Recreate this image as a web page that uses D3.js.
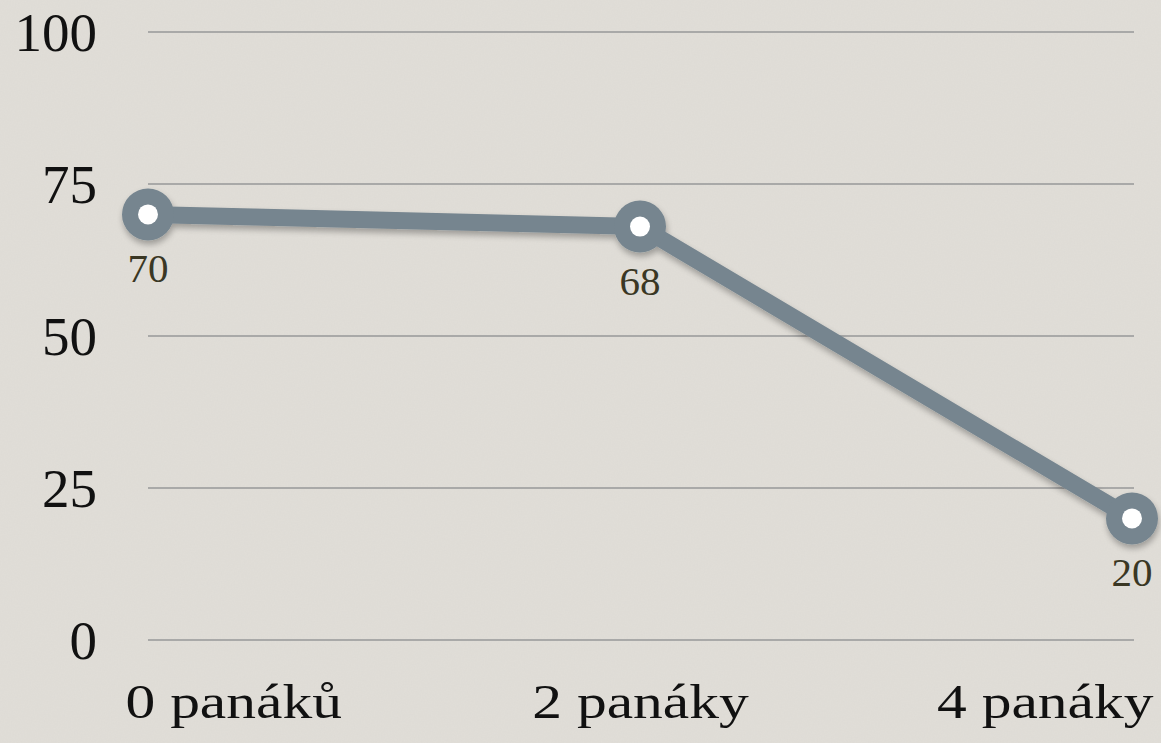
<!DOCTYPE html>
<html><head><meta charset="utf-8">
<script src="https://cdn.jsdelivr.net/npm/d3@7"></script>
<style>html,body{margin:0;padding:0;background:#e0ddd7;overflow:hidden}</style>
</head><body>
<svg id="c" width="1161" height="743"></svg>
<script>
const categories = ["0 panáků", "2 panáky", "4 panáky"];
const values = [70, 68, 20];
const yTicks = [0, 25, 50, 75, 100];

const svg = d3.select("#c");
const W = 1161, H = 743;
const defs = svg.append("defs");
const f = defs.append("filter").attr("id","paper").attr("x",0).attr("y",0).attr("width","100%").attr("height","100%");
f.append("feTurbulence").attr("type","fractalNoise").attr("baseFrequency",0.7).attr("numOctaves",3).attr("seed",4).attr("result","n");
f.append("feColorMatrix").attr("in","n").attr("type","matrix")
 .attr("values","0 0 0 0 0.5  0 0 0 0 0.5  0 0 0 0 0.48  0 0 0 0.1 0");
const sh = defs.append("filter").attr("id","sh").attr("x","-20%").attr("y","-20%").attr("width","140%").attr("height","160%");
sh.append("feGaussianBlur").attr("in","SourceAlpha").attr("stdDeviation",3);
sh.append("feOffset").attr("dx",1).attr("dy",4).attr("result","b");
sh.append("feComponentTransfer").append("feFuncA").attr("type","linear").attr("slope",0.3);
const m = sh.append("feMerge"); m.append("feMergeNode"); m.append("feMergeNode").attr("in","SourceGraphic");

svg.append("rect").attr("width",W).attr("height",H).attr("fill","#e1ded8");
svg.append("rect").attr("width",W).attr("height",H).attr("filter","url(#paper)");

const x = d3.scalePoint().domain(categories).range([148, 1132]);
const y = d3.scaleLinear().domain([0,100]).range([640, 32]);
const font = "'Liberation Serif', 'Times New Roman', serif";
const sx = 1.24;

// grid
svg.append("g").selectAll("line").data(yTicks).join("line")
  .attr("x1",148).attr("x2",1134).attr("y1",d=>y(d)).attr("y2",d=>y(d))
  .attr("stroke","#a9a9a8").attr("stroke-width",2);

// y axis labels
const yAxis = d3.axisLeft(y).tickValues(yTicks).tickSize(0).tickPadding(0);
const gy = svg.append("g").attr("transform","translate(97,0)").call(yAxis);
gy.attr("font-family",null).attr("font-size",null);
gy.select(".domain").remove();
gy.selectAll("text").style("font-family",font).style("font-size","55px").attr("fill","#111").attr("dy","0.34em");

// x axis labels
const xAxis = d3.axisBottom(x).tickSize(0).tickPadding(0);
const gx = svg.append("g").attr("transform","translate(0,718)").call(xAxis);
gx.attr("font-family",null).attr("font-size",null);
gx.select(".domain").remove();
gx.selectAll("text").style("font-family",font).style("font-size","48px")
  .attr("fill","#111").attr("y",0).attr("dy",0)
  .attr("transform",`scale(${sx},1)`)
  .attr("text-anchor",(d,i)=> i===0 ? "start" : i===categories.length-1 ? "end" : "middle")
  .attr("x",(d,i)=> (i===0 ? -23 : i===categories.length-1 ? 21 : 0)/sx);

// line
const data = categories.map((c,i)=>({c, v: values[i]}));
const g = svg.append("g").attr("filter","url(#sh)");
g.append("path").datum(data)
  .attr("d", d3.line().x(d=>x(d.c)).y(d=>y(d.v)))
  .attr("fill","none").attr("stroke","#76858f").attr("stroke-width",17).attr("stroke-linejoin","round");
g.selectAll("circle.o").data(data).join("circle").attr("class","o")
  .attr("cx",d=>x(d.c)).attr("cy",d=>y(d.v)).attr("r",26).attr("fill","#76858f");
svg.append("g").selectAll("circle").data(data).join("circle")
  .attr("cx",d=>x(d.c)).attr("cy",d=>y(d.v)).attr("r",10).attr("fill","#fff");

// value labels
svg.append("g").selectAll("text").data(data).join("text")
  .attr("x",d=>x(d.c)).attr("y",d=>y(d.v)+68)
  .attr("text-anchor","middle").style("font-family",font).style("font-size","41px")
  .attr("fill","#3a3724").text(d=>d.v);
</script>
</body></html>
